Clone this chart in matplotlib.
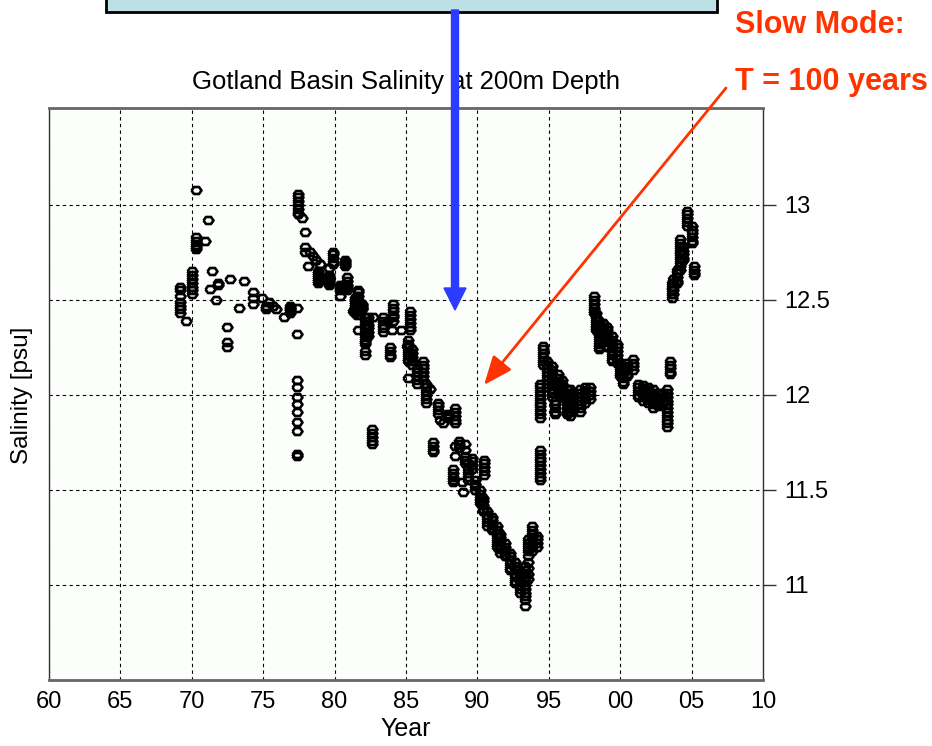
import matplotlib
matplotlib.use("Agg")
import matplotlib.pyplot as plt
from matplotlib.patches import Rectangle, FancyArrow
from matplotlib.transforms import IdentityTransform

plt.rcParams['font.family'] = ['Liberation Sans', 'DejaVu Sans']

# one entry per cast: decimal year (19xx, >100 means 20xx) and the salinities read at 200 m
cast_years = [
    69.2, 69.6, 69.99, 70.3, 70.9, 71.16, 71.27, 71.4, 71.67, 71.86,
    72.47, 72.65, 73.28, 73.68, 74.26, 74.9, 75.2, 75.43, 75.66, 75.9,
    76.43, 76.9, 77.34, 77.41, 77.7, 77.9, 78.16, 78.3, 78.46, 78.7,
    78.86, 78.98, 79.63, 79.9, 80.35, 80.7, 80.9, 81.26, 81.43, 81.55,
    81.66, 81.9, 82.13, 82.36, 82.64, 82.7, 83.37, 83.4, 83.65, 83.88,
    84.0, 84.08, 84.65, 85.05, 85.28, 85.16, 85.4, 85.75, 86.17, 86.4,
    86.7, 86.87, 87.27, 87.4, 87.6, 87.96, 88.3, 88.43, 88.7, 88.9,
    88.97, 89.13, 89.36, 89.6, 89.83, 90.18, 90.37, 90.46, 90.65, 91.0,
    91.35, 91.58, 91.93, 92.28, 92.63, 92.98, 93.33, 93.56, 93.8, 94.15,
    94.35, 94.4, 94.6, 94.85, 95.2, 95.43, 95.66, 95.9, 96.25, 96.48,
    96.72, 97.18, 97.53, 97.88, 98.2, 98.3, 98.54, 98.82, 99.1, 99.4,
    99.75, 99.99, 100.2, 100.45, 100.9, 101.27, 101.6, 101.97, 102.3, 102.67,
    103.02, 103.25, 103.49, 103.65, 103.72, 103.95, 104.19, 104.42, 104.7, 105.0,
    105.19,
]
cast_salinity = [
    [12.57, 12.55, 12.52, 12.49, 12.47, 12.45, 12.43], [12.39],
    [12.65, 12.63, 12.61, 12.59, 12.57, 12.55, 12.53],
    [13.08, 12.83, 12.81, 12.79, 12.78, 12.77], [12.81], [12.92], [12.56], [12.65],
    [12.50], [12.59, 12.58],
    [12.36, 12.28, 12.25], [12.61], [12.46], [12.60], [12.54, 12.51, 12.48],
    [12.51], [12.47, 12.46, 12.45], [12.49], [12.47], [12.45],
    [12.41], [12.47, 12.46, 12.45, 12.44, 12.43],
    [12.46, 12.32, 12.08, 12.04, 11.99, 11.95, 11.91, 11.86, 11.81, 11.69, 11.68],
    [13.06, 13.04, 13.02, 13.00, 12.98, 12.96, 12.95], [12.93], [12.86, 12.78, 12.75],
    [12.68], [12.75], [12.73], [12.71],
    [12.65, 12.64, 12.63, 12.62, 12.61, 12.60, 12.59], [12.69],
    [12.67, 12.63, 12.62, 12.61, 12.60, 12.59, 12.58],
    [12.75, 12.74, 12.72, 12.70, 12.69], [12.58, 12.57, 12.56, 12.55, 12.52],
    [12.71, 12.70, 12.69, 12.68], [12.62, 12.60, 12.58, 12.57, 12.56, 12.55], [12.44],
    [12.51, 12.50, 12.49, 12.48, 12.47, 12.46, 12.45, 12.44, 12.43],
    [12.52, 12.50, 12.48, 12.46, 12.44, 12.42],
    [12.55, 12.54, 12.52, 12.50, 12.48, 12.34], [12.48, 12.47, 12.46, 12.45],
    [12.41, 12.39, 12.37, 12.35, 12.33, 12.31, 12.29, 12.28, 12.27, 12.23, 12.21],
    [12.41, 12.39, 12.37, 12.35, 12.33, 12.31], [11.82, 11.80, 11.78, 11.76, 11.74],
    [12.41], [12.39, 12.37, 12.35, 12.33], [12.41], [12.39], [12.25, 12.23, 12.21, 12.20],
    [12.34], [12.48, 12.46, 12.44, 12.42, 12.41, 12.39], [12.34], [12.26],
    [12.44, 12.42, 12.40, 12.38, 12.36, 12.34],
    [12.29, 12.27, 12.25, 12.23, 12.21, 12.19, 12.18, 12.09],
    [12.24, 12.22, 12.20, 12.18, 12.16], [12.14, 12.12, 12.10, 12.08, 12.06],
    [12.18, 12.16, 12.14, 12.12, 12.10, 12.08], [12.06, 12.04, 12.02, 12.00, 11.98, 11.96],
    [12.03], [11.75, 11.73, 11.71, 11.70], [11.96, 11.94, 11.92, 11.90], [11.87], [11.85],
    [11.90, 11.89, 11.88], [11.61, 11.59, 11.57, 11.55, 11.54],
    [11.93, 11.91, 11.89, 11.87, 11.85, 11.73, 11.68], [11.76, 11.74, 11.72], [11.54],
    [11.49], [11.74, 11.71, 11.68, 11.66, 11.64], [11.64, 11.61, 11.59, 11.57, 11.55],
    [11.67, 11.65, 11.63, 11.61], [11.55, 11.53, 11.52, 11.50],
    [11.50, 11.48, 11.46, 11.44, 11.43], [11.46, 11.44, 11.42, 11.40, 11.39],
    [11.66, 11.64, 11.62, 11.60, 11.58], [11.39, 11.37, 11.35, 11.33, 11.31],
    [11.36, 11.34, 11.32, 11.30, 11.29],
    [11.31, 11.29, 11.27, 11.25, 11.23, 11.21, 11.20],
    [11.27, 11.25, 11.23, 11.21, 11.19, 11.17], [11.22, 11.20, 11.18, 11.16, 11.15],
    [11.17, 11.15, 11.13, 11.11, 11.09, 11.08],
    [11.12, 11.10, 11.08, 11.06, 11.04, 11.02, 11.01],
    [11.06, 11.04, 11.02, 11.00, 10.98, 10.96],
    [11.10, 11.08, 11.06, 11.04, 11.02, 11.00, 10.98, 10.96, 10.94, 10.92, 10.89],
    [11.24, 11.22, 11.20, 11.18, 11.15, 11.12, 11.09, 11.06, 11.03],
    [11.31, 11.29, 11.27, 11.25, 11.22, 11.20, 11.18], [11.26, 11.24, 11.22, 11.20],
    [11.71, 11.69, 11.67, 11.65, 11.63, 11.61, 11.59, 11.57, 11.55],
    [12.06, 12.04, 12.02, 12.00, 11.98, 11.96, 11.94, 11.92, 11.90, 11.88],
    [12.26, 12.24, 12.22, 12.20, 12.18, 12.16],
    [12.18, 12.16, 12.14, 12.12, 12.10, 12.08, 12.06, 12.04],
    [12.15, 12.13, 12.11, 12.09, 12.07, 12.05, 12.03, 12.01, 11.99],
    [11.97, 11.95, 11.93, 11.91, 11.90], [12.11, 12.09, 12.07, 12.05, 12.03, 12.01],
    [12.08, 12.06, 12.04, 12.02, 12.00, 11.99],
    [12.03, 12.01, 11.99, 11.97, 11.95, 11.93, 11.91, 11.90],
    [12.03, 12.01, 11.99, 11.97, 11.95, 11.93, 11.91, 11.89],
    [12.01, 11.99, 11.97, 11.95, 11.93, 11.92],
    [12.03, 12.01, 11.99, 11.97, 11.95, 11.93, 11.91],
    [12.04, 12.02, 12.00, 11.98, 11.96], [12.04, 12.02, 12.00, 11.98],
    [12.52, 12.50, 12.48, 12.46, 12.44, 12.43], [12.43, 12.41, 12.39, 12.37, 12.35, 12.34],
    [12.39, 12.37, 12.35, 12.33, 12.31, 12.29, 12.27, 12.25, 12.24],
    [12.38, 12.36, 12.34, 12.32, 12.30, 12.29],
    [12.36, 12.34, 12.32, 12.30, 12.28, 12.26, 12.25],
    [12.31, 12.29, 12.27, 12.25, 12.23, 12.21, 12.19, 12.18],
    [12.27, 12.25, 12.23, 12.21, 12.19, 12.17], [12.17, 12.15, 12.13, 12.11, 12.10],
    [12.15, 12.13, 12.11, 12.09, 12.07, 12.06], [12.17, 12.15, 12.13, 12.11, 12.10],
    [12.19, 12.17, 12.15, 12.13], [12.06, 12.04, 12.02, 12.00, 11.99],
    [12.05, 12.03, 12.01, 11.99, 11.97], [12.04, 12.02, 12.00, 11.98, 11.96],
    [12.03, 12.01, 11.99, 11.97, 11.95, 11.93], [12.01, 11.99, 11.97, 11.95, 11.94],
    [12.01, 11.99, 11.97, 11.96],
    [12.03, 12.01, 11.99, 11.97, 11.95, 11.93, 11.91, 11.89, 11.87, 11.85, 11.83],
    [12.18, 12.16, 12.14, 12.12, 12.11], [12.59, 12.57, 12.55, 12.53, 12.51],
    [12.61, 12.59, 12.57, 12.55, 12.53], [12.66, 12.64, 12.62, 12.60, 12.59],
    [12.82, 12.80, 12.78, 12.76, 12.74, 12.72, 12.70, 12.68, 12.66],
    [12.78, 12.76, 12.74, 12.72, 12.71], [12.97, 12.95, 12.93, 12.91, 12.89],
    [12.89, 12.87, 12.85, 12.83, 12.81, 12.80], [12.68, 12.66, 12.64, 12.63],
]

year_ticks = [60, 65, 70, 75, 80, 85, 90, 95, 100, 105, 110]
year_labels = ["60", "65", "70", "75", "80", "85", "90", "95", "00", "05", "10"]
sal_ticks = [11, 11.5, 12, 12.5, 13]
sal_labels = ["11", "11.5", "12", "12.5", "13"]

years, sals = [], []
for yr, vals in zip(cast_years, cast_salinity):
    years += [yr] * len(vals)
    sals += vals

# flat hexagon, like the squashed diamonds of the original plotting package
hex_marker = [(-1, 0), (-0.5, 0.7), (0.5, 0.7), (1, 0), (0.5, -0.7),
              (-0.5, -0.7), (-1, 0)]

W, H = 932, 746
fig = plt.figure(figsize=(W / 100, H / 100), dpi=100)
fig.patch.set_facecolor("white")

ax = fig.add_axes([49 / W, 1 - 680 / H, (763 - 49) / W, (680 - 108) / H])
ax.set_facecolor("#fcfefc")
# hollow markers so that stacked casts merge into solid black bands
ax.plot(years, sals, linestyle="none", marker=hex_marker, markersize=7.2,
        markerfacecolor="none", markeredgecolor="black", markeredgewidth=1.9)

ax.set_xlim(60, 110)
ax.set_ylim(10.5, 13.51)
ax.set_xticks(year_ticks)
ax.set_xticklabels(year_labels, fontsize=17)
ax.set_yticks(sal_ticks)
ax.set_yticklabels(sal_labels, fontsize=17)
ax.yaxis.tick_right()
ax.tick_params(axis="y", direction="out", length=9, width=1, pad=6, colors="#333333",
               labelcolor="black")
ax.tick_params(axis="x", length=0, pad=8)
ax.grid(True, color="black", linestyle=(0, (3, 3)), linewidth=0.8)
for side in ("top", "bottom"):
    ax.spines[side].set_color("#666666")
    ax.spines[side].set_linewidth(2)
for side in ("left", "right"):
    ax.spines[side].set_color("#333333")
    ax.spines[side].set_linewidth(1)

ax.set_title("Gotland Basin Salinity at 200m Depth", fontsize=18.5, pad=14)
ax.set_xlabel("Year", fontsize=18, labelpad=3)
fig.text(22 / W, 1 - 395 / H, "Salinity [psu]", rotation=90, fontsize=17.5,
         ha="center", va="center")

# slide decorations, drawn in figure pixels
pix = IdentityTransform()
fig.patches.append(Rectangle((106, H - 12), 611, 30, transform=pix,
                             facecolor="#bde0e6", edgecolor="black", linewidth=2,
                             figure=fig))
fig.patches.append(FancyArrow(455, H - 10, 0, -300, width=7, head_width=22,
                              head_length=22, length_includes_head=True,
                              color="#2b3bff", transform=pix, figure=fig, zorder=5))
fig.add_artist(plt.Annotation("", xy=(484, H - 385), xytext=(726, H - 88),
                              xycoords="figure pixels", textcoords="figure pixels",
                              arrowprops=dict(arrowstyle="-|>,head_length=1.1,head_width=0.45",
                                              color="#ff3300", lw=2, mutation_scale=16,
                                              shrinkA=0, shrinkB=0),
                              annotation_clip=False))
fig.text(820 / W, 1 - 25 / H, "Slow Mode:", color="#ff3300", fontsize=22,
         fontweight="bold", ha="center", va="center")
fig.text(831 / W, 1 - 82 / H, "T = 100 years", color="#ff3300", fontsize=22,
         fontweight="bold", ha="center", va="center")

fig.savefig("out.png", dpi=100)
